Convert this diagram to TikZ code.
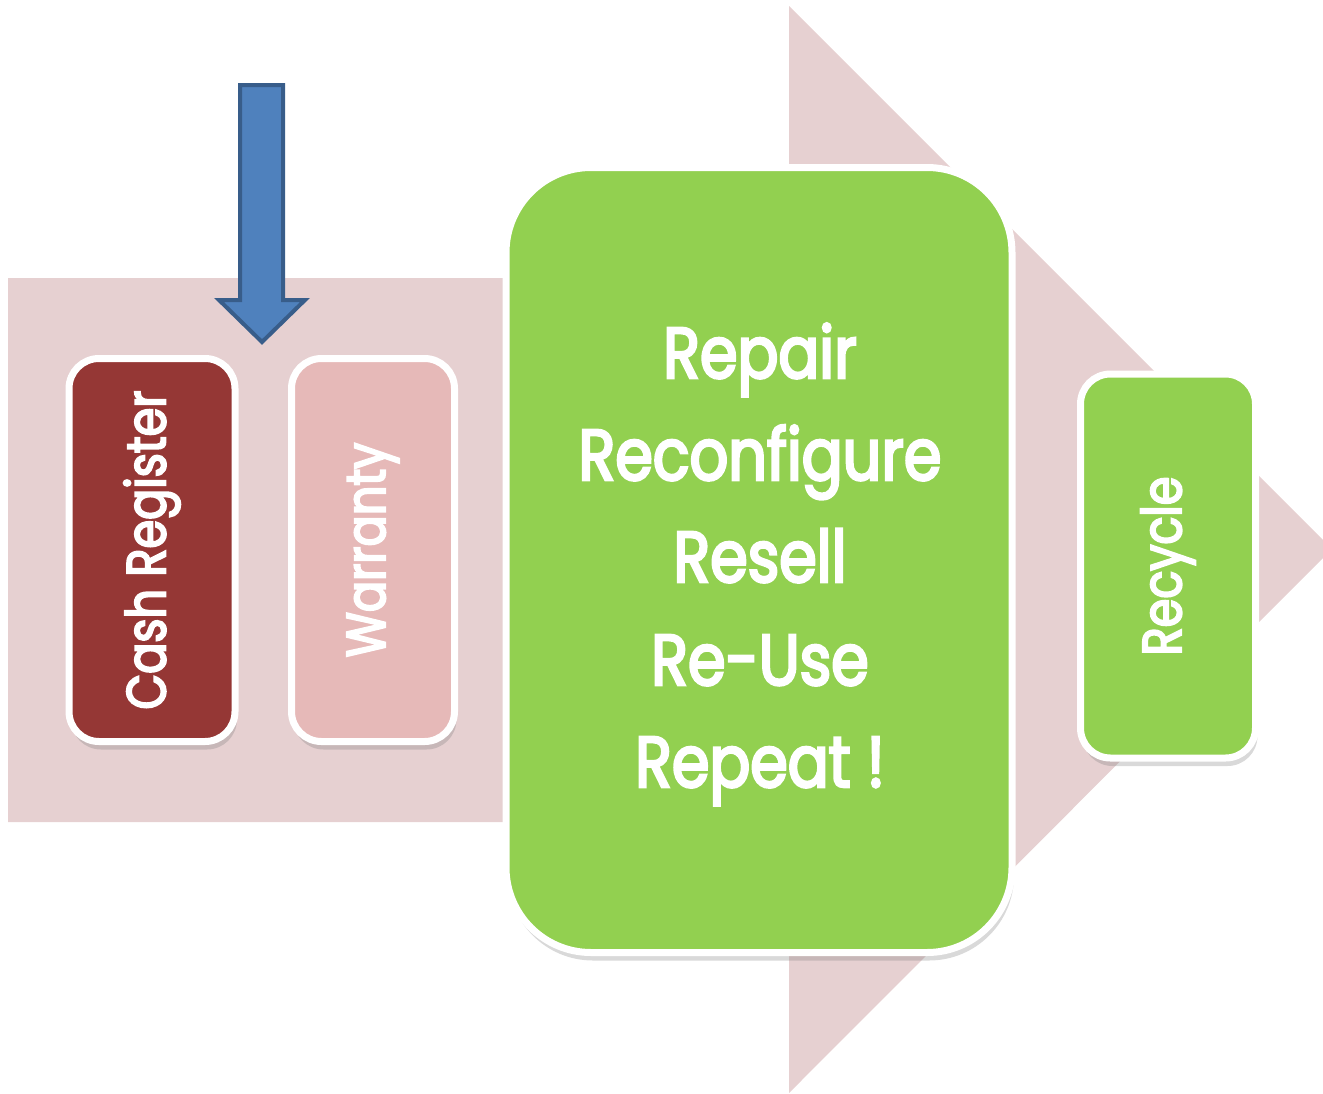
\documentclass[tikz,border=0pt]{standalone}
\usepackage{fontspec}
\setmainfont[FakeStretch=0.84,FakeBold=3.5]{Poppins}
\usetikzlibrary{positioning,shadows}

\definecolor{flowpink}{RGB}{230,208,209}
\definecolor{cashred}{RGB}{149,55,53}
\definecolor{warrpink}{RGB}{230,185,184}
\definecolor{reusegreen}{RGB}{146,208,80}
\definecolor{dropblue}{RGB}{79,129,189}
\definecolor{dropline}{RGB}{56,93,138}

\begin{document}
\begin{tikzpicture}[x=1pt,y=-1pt]
        \tikzset{
            stage/.style={draw=white, line width=7pt, inner sep=0pt,
                rounded corners=30pt,
                drop shadow={opacity=0.3, shadow xshift=2pt, shadow yshift=-8pt}},
            vlabel/.style={rotate=90, text=white, inner sep=0pt,
                font=\fontsize{55}{62}\selectfont},
            biglabel/.style={anchor=base, text=white, inner sep=0pt,
                font=\fontsize{72}{80}\selectfont}
        }
        \useasboundingbox (0,0) rectangle (1323,1093);

        % the big flow arrow behind everything
        \fill[flowpink] (8,278) -- (789,278) -- (789,6) -- (1332,549)
            -- (789,1093) -- (789,822) -- (8,822) -- cycle;

        \node[stage, fill=cashred,  minimum width=166pt, minimum height=383pt] (cash) at (152,550) {};
        \node[stage, fill=warrpink, minimum width=163pt, minimum height=383pt] (warr) at (373,550) {};
        \node[stage, fill=reusegreen, rounded corners=85pt,
              minimum width=506pt, minimum height=785pt]                       (reuse) at (759,560) {};
        \node[stage, fill=reusegreen, minimum width=175pt, minimum height=384pt] (recyc) at (1168,566) {};

        \node[vlabel] (cashtxt)  at (cash)  {Cash Register};
        \node[vlabel] (warrtxt)  at (warr)  {Warranty};
        \node[vlabel] (recyctxt) at (recyc) {Recycle};

        \foreach \word/\y [count=\i] in {Repair/378, Reconfigure/480, Resell/582,
                                         Re-Use/685, Repeat !/787}
            \node[biglabel] (line\i) at (760,\y) {\word};

        % entry point
        \draw[dropline, fill=dropblue, line width=4pt, line join=miter]
            (240,85) -- (283,85) -- (283,300) -- (305,300) -- (262,342)
            -- (219,300) -- (240,300) -- cycle;
\end{tikzpicture}
\end{document}
